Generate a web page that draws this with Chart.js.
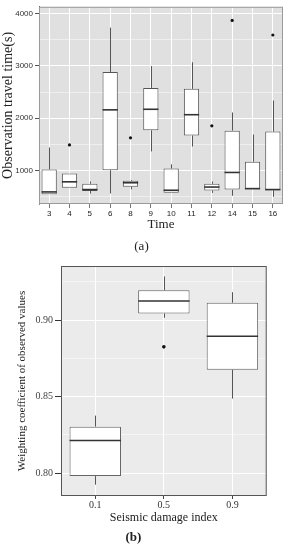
<!DOCTYPE html>
<html>
<head>
<meta charset="utf-8">
<script src="https://cdn.jsdelivr.net/npm/chart.js@4/dist/chart.umd.min.js"></script>
<style>
  body { margin: 0; background: #fff; }
  canvas { display: block; position: absolute; left: 0; }
  #chartA { top: 0; }
  #chartB { top: 258px; }
</style>
</head>
<body>
<canvas id="chartA" width="289" height="258"></canvas>
<canvas id="chartB" width="289" height="292"></canvas>
<script>
'use strict';

// (a) observation travel time, one box per time
var times = ['3', '4', '5', '6', '8', '9', '10', '11', '12', '14', '15', '16'];
var timeLow = [548, 673, 561, 561, 641, 1366, 573, 1459, 573, 517, 641, 498];
var timeQ1 = [548, 673, 610, 1007, 691, 1770, 573, 1669, 617, 636, 641, 623];
var timeMedian = [591, 784, 636, 2160, 766, 2171, 623, 2067, 684, 963, 654, 636];
var timeQ3 = [1020, 944, 747, 2885, 803, 2580, 1037, 2561, 747, 1762, 1167, 1744];
var timeHigh = [1440, 944, 790, 3732, 820, 2996, 1119, 3070, 790, 2110, 1688, 2338];
var timeOutliers = [null, 1490, null, null, 1626, null, null, null, 1855, 3870, null, 3591];
var timeTicks = [500, 1000, 1500, 2000, 2500, 3000, 3500, 4000];

// (b) weighting coefficient per seismic damage index
var damageIndex = ['0.1', '0.5', '0.9'];
var weightLow = [0.7925, 0.9015, 0.8487];
var weightQ1 = [0.7981, 0.9043, 0.8676];
var weightMedian = [0.8213, 0.9124, 0.8894];
var weightQ3 = [0.8304, 0.9194, 0.9113];
var weightHigh = [0.8376, 0.9285, 0.9182];
var weightOutliers = [null, 0.8825, null];
var weightTicks = [0.8, 0.825, 0.85, 0.875, 0.9, 0.925];

var SERIF = '"Liberation Serif", "DejaVu Serif", serif';
var SANS = '"Liberation Sans", Arial, sans-serif';

Chart.defaults.font.family = SANS;
Chart.defaults.color = '#333';

// panel background, drawn before grid lines, plus a frame after
var panelPlugin = {
  id: 'panel',
  beforeDraw: function(chart, args, opts) {
    var a = chart.chartArea;
    var ctx = chart.ctx;
    ctx.save();
    ctx.fillStyle = opts.background;
    ctx.fillRect(a.left, a.top, a.right - a.left, a.bottom - a.top);
    ctx.restore();
  },
  afterDraw: function(chart, args, opts) {
    if (!opts.border) return;
    var a = chart.chartArea;
    var ctx = chart.ctx;
    ctx.save();
    ctx.strokeStyle = opts.border;
    ctx.lineWidth = 1;
    ctx.strokeRect(a.left + 0.5, a.top + 0.5, a.right - a.left - 1, a.bottom - a.top - 1);
    ctx.restore();
  }
};

// whiskers and medians for the boxes
var whiskerPlugin = {
  id: 'boxWhiskers',
  afterDatasetsDraw: function(chart, args, opts) {
    var ctx = chart.ctx;
    var y = chart.scales.y;
    var bars = chart.getDatasetMeta(0).data;
    ctx.save();
    for (var i = 0; i < bars.length; i++) {
      var bar = bars[i];
      var x = Math.round(bar.x) + 0.5;
      ctx.strokeStyle = '#555';
      ctx.lineWidth = 1;
      ctx.beginPath();
      ctx.moveTo(x, y.getPixelForValue(opts.high[i]));
      ctx.lineTo(x, y.getPixelForValue(opts.q3[i]));
      ctx.moveTo(x, y.getPixelForValue(opts.q1[i]));
      ctx.lineTo(x, y.getPixelForValue(opts.low[i]));
      ctx.stroke();
      var my = y.getPixelForValue(opts.median[i]);
      ctx.strokeStyle = '#333';
      ctx.lineWidth = 1.6;
      ctx.beginPath();
      ctx.moveTo(bar.x - bar.width / 2, my);
      ctx.lineTo(bar.x + bar.width / 2, my);
      ctx.stroke();
    }
    ctx.restore();
  }
};

function boxData(q1, q3) {
  return q1.map(function(v, i) { return [v, q3[i]]; });
}

function fixedTicks(values) {
  return function(scale) {
    scale.ticks = values.map(function(v) { return { value: v }; });
  };
}

function isMajorTime(v) { return v % 1000 === 0; }
function isMajorWeight(v) { return Math.round(v * 1000) % 50 === 0; }

// chart (a)
new Chart(document.getElementById('chartA'), {
  type: 'bar',
  data: {
    labels: times,
    datasets: [{
      data: boxData(timeQ1, timeQ3),
      backgroundColor: '#fff',
      borderColor: '#555',
      borderWidth: 1,
      borderSkipped: false,
      barPercentage: 0.75,
      categoryPercentage: 1
    }, {
      type: 'line',
      data: timeOutliers,
      showLine: false,
      pointRadius: 1.6,
      pointBackgroundColor: '#111',
      pointBorderWidth: 0
    }]
  },
  options: {
    responsive: false,
    animation: false,
    layout: { padding: { top: 1, right: 6, left: 0, bottom: 0 } },
    plugins: {
      legend: { display: false },
      tooltip: { enabled: false },
      title: {
        display: true,
        text: '(a)',
        position: 'bottom',
        color: '#222',
        font: { family: SERIF, size: 13, weight: 'normal' },
        padding: { top: 5.2, bottom: 3.2 }
      },
      panel: { background: '#e0e0e0', border: '#9a9a9a' },
      boxWhiskers: { low: timeLow, q1: timeQ1, median: timeMedian, q3: timeQ3, high: timeHigh }
    },
    scales: {
      x: {
        afterFit: function(s) { s.height = 30; },
        grid: { color: '#fff', lineWidth: 1, offset: false, tickLength: 4, tickColor: '#777' },
        border: { display: false },
        ticks: { padding: 1, font: { size: 8 }, color: '#222' },
        title: {
          display: true, text: 'Time', color: '#222',
          font: { family: SERIF, size: 13 }, padding: { top: 0, bottom: 1.2 }
        }
      },
      y: {
        min: 360,
        max: 4130,
        afterBuildTicks: fixedTicks(timeTicks),
        afterFit: function(s) { s.width = 39; },
        grid: {
          color: '#fff',
          lineWidth: function(c) { return c.tick && isMajorTime(c.tick.value) ? 1 : 0.5; },
          tickLength: 4,
          tickColor: function(c) { return c.tick && isMajorTime(c.tick.value) ? '#555' : 'rgba(0,0,0,0)'; }
        },
        border: { display: true, color: '#666' },
        ticks: {
          padding: 2,
          autoSkip: false,
          font: { size: 8 },
          color: '#333',
          callback: function(v) { return isMajorTime(v) ? String(v) : ''; }
        },
        title: {
          display: true, text: 'Observation travel time(s)', color: '#222',
          font: { family: SERIF, size: 14, lineHeight: 1 }, padding: { top: 1, bottom: 0 }
        }
      }
    }
  },
  plugins: [panelPlugin, whiskerPlugin]
});

// chart (b)
new Chart(document.getElementById('chartB'), {
  type: 'bar',
  data: {
    labels: damageIndex,
    datasets: [{
      data: boxData(weightQ1, weightQ3),
      backgroundColor: '#fff',
      borderColor: '#666',
      borderWidth: 1,
      borderSkipped: false,
      barPercentage: 0.75,
      categoryPercentage: 1
    }, {
      type: 'line',
      data: weightOutliers,
      showLine: false,
      pointRadius: 1.8,
      pointBackgroundColor: '#111',
      pointBorderWidth: 0
    }]
  },
  options: {
    responsive: false,
    animation: false,
    layout: { padding: { top: 3.7, right: 22.3, left: 0, bottom: 0 } },
    plugins: {
      legend: { display: false },
      tooltip: { enabled: false },
      title: {
        display: true,
        text: '(b)',
        position: 'bottom',
        color: '#222',
        font: { family: SERIF, size: 13, weight: 'bold' },
        padding: { top: 4.2, bottom: 4.2 }
      },
      panel: { background: '#ebebeb', border: '#555' },
      boxWhiskers: { low: weightLow, q1: weightQ1, median: weightMedian, q3: weightQ3, high: weightHigh }
    },
    scales: {
      x: {
        afterFit: function(s) { s.height = 30; },
        grid: { color: '#fff', lineWidth: 1, offset: false, tickLength: 3, tickColor: '#444' },
        border: { display: false },
        ticks: { padding: 0, font: { family: SERIF, size: 10 }, color: '#333' },
        title: {
          display: true, text: 'Seismic damage index', color: '#222',
          font: { family: SERIF, size: 12 }, padding: { top: 0, bottom: 0.8 }
        }
      },
      y: {
        min: 0.7851,
        max: 0.9353,
        afterBuildTicks: fixedTicks(weightTicks),
        afterFit: function(s) { s.width = 61; },
        grid: {
          color: '#fff',
          lineWidth: function(c) { return c.tick && isMajorWeight(c.tick.value) ? 1 : 0.5; },
          tickLength: 6,
          tickColor: function(c) { return c.tick && isMajorWeight(c.tick.value) ? '#333' : 'rgba(0,0,0,0)'; }
        },
        border: { display: false },
        ticks: {
          padding: 2,
          autoSkip: false,
          font: { family: SERIF, size: 10 },
          color: '#444',
          callback: function(v) { return isMajorWeight(v) ? v.toFixed(2) : ''; }
        },
        title: {
          display: true, text: 'Weighting coefficient of observed values', color: '#222',
          font: { family: SERIF, size: 11 }, padding: { top: 15.4, bottom: 0 }
        }
      }
    }
  },
  plugins: [panelPlugin, whiskerPlugin]
});
</script>
</body>
</html>
